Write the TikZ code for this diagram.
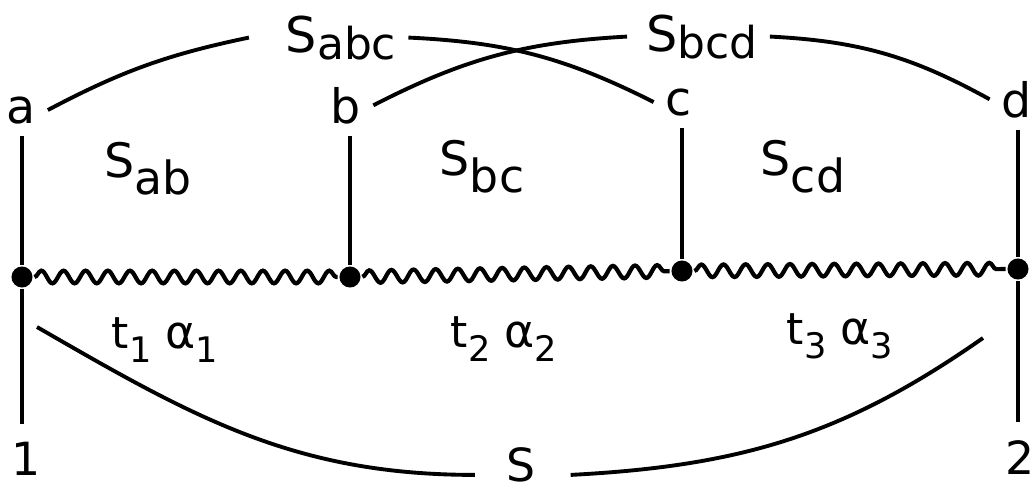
\documentclass[tikz,border=0pt]{standalone}
\usepackage{fontspec}
\setmainfont{DejaVu Sans}
\usetikzlibrary{decorations.pathmorphing}
\newcommand\fs[1]{\fontsize{#1}{#1}\selectfont}
\newcommand\Stop[1]{{\fs{14}S}\raisebox{-2pt}{\fs{12.5}#1}}
\newcommand\Sreg[1]{{\fs{13.5}S}\raisebox{-5pt}{\fs{13}#1}}
\newcommand\tal[1]{{\fs{12.5}t}\raisebox{-4pt}{\fs{10}#1}\hspace{4pt}{\fs{13}α}\raisebox{-4pt}{\fs{10}#1}}
\begin{document}
\begin{tikzpicture}[x=0.01cm,y=0.01cm,line width=1.1pt,
		lab/.style={inner sep=0pt,outer sep=3.5pt,anchor=base,font=\fs{13.5}},
		num/.style={lab,outer sep=5pt,font=\fs{13}},
		dot/.style={circle,fill,inner sep=0pt,minimum size=0.21cm},
		wavy/.style={decorate,decoration={snake,segment length=6.3pt,amplitude=1.8pt}}]
	\useasboundingbox (0,0) rectangle (1032,490);
	% vertices and end labels
	\node[dot] (A) at (22,213) {};
	\node[dot] (B) at (350,213) {};
	\node[dot] (C) at (682,219) {};
	\node[dot] (D) at (1018,221) {};
	\node[lab] (a) at (21,367) {a};
	\node[lab] (b) at (346,367) {b};
	\node[lab] (c) at (679,375) {c};
	\node[lab] (d) at (1017,373) {d};
	\node[num] (one) at (26,15) {1};
	\node[num] (two) at (1020,16) {2};
	\node[num] (S) at (521,9) {S};
	\node[lab] (Sabc) at (341,438) {\Stop{abc}};
	\node[lab] (Sbcd) at (702,439) {\Stop{bcd}};
	\node[lab] (Sab) at (148,313) {\Sreg{ab}};
	\node[lab] (Sbc) at (482,315) {\Sreg{bc}};
	\node[lab] (Scd) at (803,315) {\Sreg{cd}};
	\node[lab] (ta1) at (165,142) {\tal{1}};
	\node[lab] (ta2) at (504,143) {\tal{2}};
	\node[lab] (ta3) at (840,146) {\tal{3}};
	\coordinate (s1) at (37,163);
	\coordinate (s2) at (983,152);
	% lines
	\foreach \v/\l in {A/a,B/b,C/c,D/d} {
		\draw (\v |- \l.south)--(\v);
	};
	\draw (A)--(A |- one.north);
	\draw (D)--(D |- two.north);
	\foreach \p/\q in {A/B,B/C,C/D} {
		\draw[wavy,line width=1.2pt] (\p)--(\q);
	};
	\draw (a.east) to[bend left=8] ([xshift=-7pt]Sabc.west);
	\draw (Sabc.east) to[bend left=12] (c.west);
	\draw (b.east) to[bend left=12] ([xshift=-2pt]Sbcd.west);
	\draw (Sbcd.east) to[bend left=13] (d.west);
	\draw (s1) to[out=-30,in=180] ([xshift=-4pt,yshift=-3pt]S.west);
	\draw ([xshift=5pt,yshift=-3pt]S.east) to[out=3,in=-145] (s2);
\end{tikzpicture}
\end{document}
